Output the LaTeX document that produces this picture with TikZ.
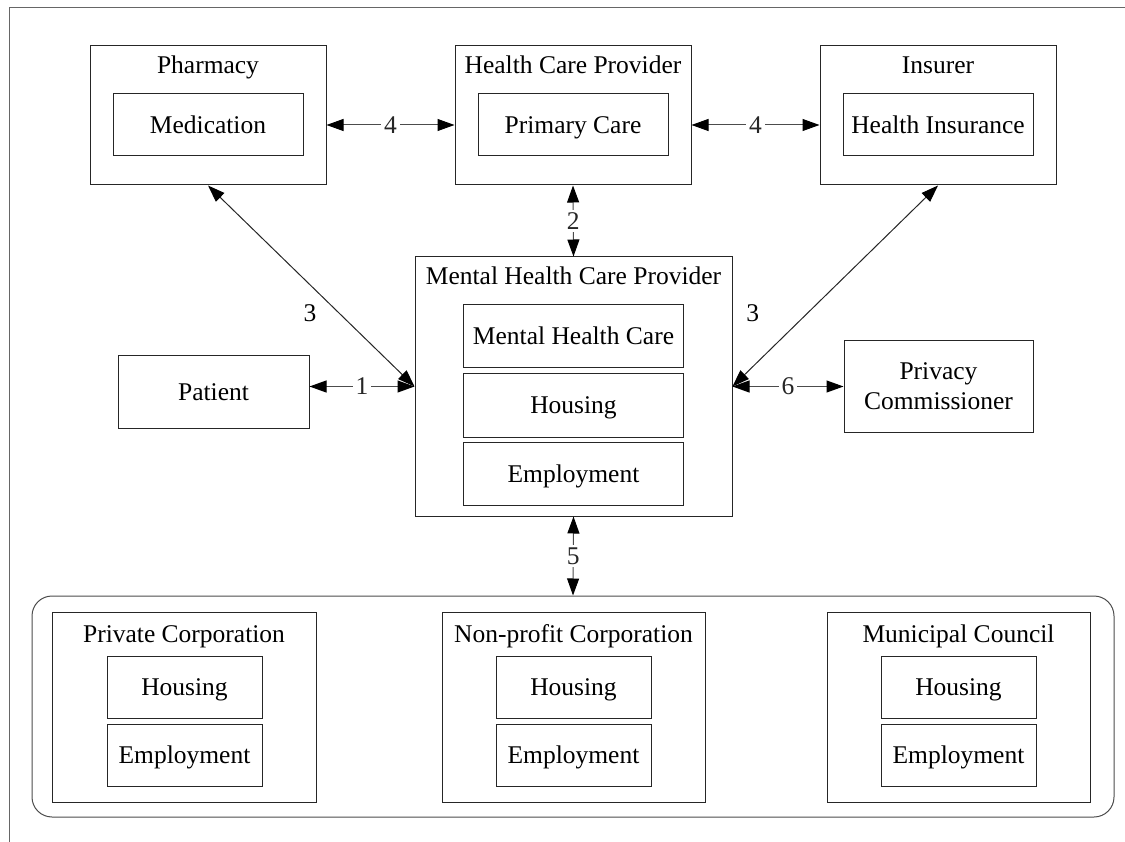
\documentclass[tikz,border=0pt]{standalone}
\usepackage{fontspec}
\setmainfont{Liberation Serif}
\usetikzlibrary{arrows.meta}
\begin{document}
\begin{tikzpicture}[x=1pt,y=-1pt,
  every node/.style={font=\fontsize{25.5}{30}\selectfont},
  box/.style={draw=black!85, line width=1pt, rectangle, inner sep=0pt, text height=19pt, text depth=2.5pt},
  outer/.style={draw=black!85, line width=1pt, rectangle, inner sep=0pt},
  title/.style={anchor=base, inner sep=0pt},
  tip/.style={Triangle[length=17pt,width=12pt,color=black]},
  conn/.style={draw=black!70, line width=1pt, {Triangle[length=17pt,width=12pt,color=black]}-{Triangle[length=17pt,width=12pt,color=black]}},
  lbl/.style={fill=white, inner sep=3pt, text=black!85}
]
\useasboundingbox (0,0) rectangle (1125,842);
% frame
\draw[draw=black!60, line width=1pt] (9,842) -- (9,8) -- (1125,8);

% top row
\node[outer, minimum width=236pt, minimum height=139pt] (pharm) at (208,115.5) {};
\node[title] (pharmT) at (208,74) {Pharmacy};
\node[box, minimum width=190pt, minimum height=62pt] (med) at (208,125) {Medication};

\node[outer, minimum width=236pt, minimum height=139pt] (hcp) at (573,115.5) {};
\node[title] (hcpT) at (573,74) {Health Care Provider};
\node[box, minimum width=190pt, minimum height=62pt] (pc) at (573,125) {Primary Care};

\node[outer, minimum width=236pt, minimum height=139pt] (ins) at (938,115.5) {};
\node[title] (insT) at (938,74) {Insurer};
\node[box, minimum width=190pt, minimum height=62pt] (hi) at (938,125) {Health Insurance};

% middle
\node[outer, minimum width=317pt, minimum height=259pt] (mhcp) at (573.5,386.5) {};
\node[title] (mhcpT) at (573.5,285) {Mental Health Care Provider};
\node[box, minimum width=220pt, minimum height=63pt] (mhc) at (573.5,336.5) {Mental Health Care};
\node[box, minimum width=220pt, minimum height=63pt] (mhous) at (573.5,405.5) {Housing};
\node[box, minimum width=220pt, minimum height=63pt] (memp) at (573.5,474) {Employment};

\node[box, minimum width=191pt, minimum height=72pt] (pat) at (213.5,392) {Patient};
\node[outer, minimum width=189pt, minimum height=91pt, align=center] (priv) at (938.5,386.5) {Privacy\\Commissioner};

% bottom
\node[draw=black!70, line width=1pt, rounded corners=20pt, minimum width=1082pt, minimum height=221pt, inner sep=0pt] (orgs) at (573,706.5) {};

\node[outer, minimum width=264pt, minimum height=190pt] (priv1) at (184,707) {};
\node[title] (priv1T) at (184,642) {Private Corporation};
\node[box, minimum width=155pt, minimum height=62pt] (h1) at (184.5,687) {Housing};
\node[box, minimum width=155pt, minimum height=62pt] (e1) at (184.5,755) {Employment};

\node[outer, minimum width=263pt, minimum height=190pt] (np) at (573.5,707) {};
\node[title] (npT) at (573.5,642) {Non-profit Corporation};
\node[box, minimum width=155pt, minimum height=62pt] (h2) at (573.5,687) {Housing};
\node[box, minimum width=155pt, minimum height=62pt] (e2) at (573.5,755) {Employment};

\node[outer, minimum width=263pt, minimum height=190pt] (mc) at (958.5,707) {};
\node[title] (mcT) at (958.5,642) {Municipal Council};
\node[box, minimum width=155pt, minimum height=62pt] (h3) at (958.5,687) {Housing};
\node[box, minimum width=155pt, minimum height=62pt] (e3) at (958.5,755) {Employment};

% connectors
\draw[conn] (pharm.east |- med.center) -- node[lbl] (l4a) {4} (hcp.west |- med.center);
\draw[conn] (hcp.east |- pc.center) -- node[lbl] (l4b) {4} (ins.west |- pc.center);
\draw[conn] (hcp.south) -- node[lbl] (l2) {2} (mhcp.north);
\draw[conn, draw=black!85] (pharm.south) -- node[pos=0.634, xshift=-29pt, inner sep=0pt] (l3a) {3} (mhcp.west);
\draw[conn, draw=black!85] (ins.south) -- node[pos=0.634, xshift=-55pt, inner sep=0pt] (l3b) {3} (mhcp.east);
\draw[conn] (pat.east |- mhcp.west) -- node[lbl] (l1) {1} (mhcp.west);
\draw[conn] (mhcp.east) -- node[lbl] (l6) {6} (priv.west);
\draw[conn] (mhcp.south) -- node[lbl] (l5) {5} (orgs.north);
\end{tikzpicture}
\end{document}
